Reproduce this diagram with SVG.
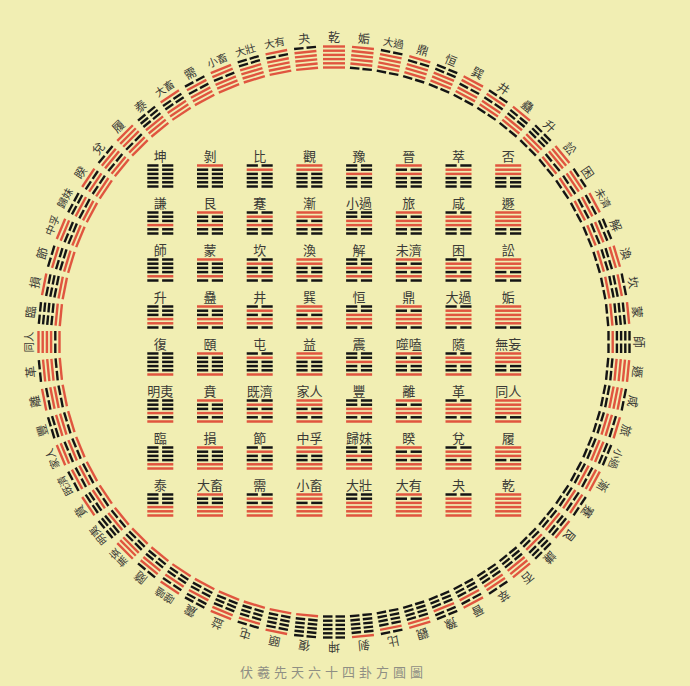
<svg xmlns="http://www.w3.org/2000/svg" xmlns:xlink="http://www.w3.org/1999/xlink" width="690" height="686" viewBox="0 0 690 686">
<style>
.r{fill:#e0553f}
.k{fill:#141414}
text{font-family:"Noto Sans CJK TC","Noto Sans CJK SC","Noto Sans CJK JP",sans-serif;text-anchor:middle;fill:#3a3a36}
.sl{font-size:13px}
.cl{font-size:12px}
.c2{font-size:10.5px}
.title{font-size:13px;fill:#8f8f84;letter-spacing:4px;text-anchor:start}
</style>
<defs>
<g id="sy"><rect class="r" x="-13" y="-1.25" width="26" height="2.5"/></g>
<g id="sn"><rect class="k" x="-13" y="-1.25" width="11.2" height="2.5"/><rect class="k" x="1.8" y="-1.25" width="11.2" height="2.5"/></g>
<g id="sQ"><use href="#sy"/><use href="#sy" y="-4.2"/><use href="#sy" y="-8.4"/></g>
<g id="sD"><use href="#sy"/><use href="#sy" y="-4.2"/><use href="#sn" y="-8.4"/></g>
<g id="sL"><use href="#sy"/><use href="#sn" y="-4.2"/><use href="#sy" y="-8.4"/></g>
<g id="sZ"><use href="#sy"/><use href="#sn" y="-4.2"/><use href="#sn" y="-8.4"/></g>
<g id="sX"><use href="#sn"/><use href="#sy" y="-4.2"/><use href="#sy" y="-8.4"/></g>
<g id="sK"><use href="#sn"/><use href="#sy" y="-4.2"/><use href="#sn" y="-8.4"/></g>
<g id="sG"><use href="#sn"/><use href="#sn" y="-4.2"/><use href="#sy" y="-8.4"/></g>
<g id="sN"><use href="#sn"/><use href="#sn" y="-4.2"/><use href="#sn" y="-8.4"/></g>
<g id="cy"><rect class="r" x="-11" y="-1.2" width="22" height="2.4"/></g>
<g id="cn"><rect class="k" x="-11" y="-1.2" width="9.5" height="2.4"/><rect class="k" x="1.5" y="-1.2" width="9.5" height="2.4"/></g>
<g id="cQ"><use href="#cy"/><use href="#cy" y="-4.2"/><use href="#cy" y="-8.4"/></g>
<g id="cD"><use href="#cy"/><use href="#cy" y="-4.2"/><use href="#cn" y="-8.4"/></g>
<g id="cL"><use href="#cy"/><use href="#cn" y="-4.2"/><use href="#cy" y="-8.4"/></g>
<g id="cZ"><use href="#cy"/><use href="#cn" y="-4.2"/><use href="#cn" y="-8.4"/></g>
<g id="cX"><use href="#cn"/><use href="#cy" y="-4.2"/><use href="#cy" y="-8.4"/></g>
<g id="cK"><use href="#cn"/><use href="#cy" y="-4.2"/><use href="#cn" y="-8.4"/></g>
<g id="cG"><use href="#cn"/><use href="#cn" y="-4.2"/><use href="#cy" y="-8.4"/></g>
<g id="cN"><use href="#cn"/><use href="#cn" y="-4.2"/><use href="#cn" y="-8.4"/></g>
</defs>
<rect width="690" height="686" fill="#f1eeb3"/>

<g id="square">
<g id="sq-kun" transform="translate(160.3 186.5)"><use href="#sN"/><use href="#sN" y="-12.6"/><text class="sl" y="-25.1">坤</text></g>
<g id="sq-bo" transform="translate(210 186.5)"><use href="#sN"/><use href="#sG" y="-12.6"/><text class="sl" y="-25.1">剝</text></g>
<g id="sq-bi" transform="translate(259.7 186.5)"><use href="#sN"/><use href="#sK" y="-12.6"/><text class="sl" y="-25.1">比</text></g>
<g id="sq-guan" transform="translate(309.4 186.5)"><use href="#sN"/><use href="#sX" y="-12.6"/><text class="sl" y="-25.1">觀</text></g>
<g id="sq-yu" transform="translate(359.1 186.5)"><use href="#sN"/><use href="#sZ" y="-12.6"/><text class="sl" y="-25.1">豫</text></g>
<g id="sq-jin" transform="translate(408.8 186.5)"><use href="#sN"/><use href="#sL" y="-12.6"/><text class="sl" y="-25.1">晉</text></g>
<g id="sq-cui" transform="translate(458.5 186.5)"><use href="#sN"/><use href="#sD" y="-12.6"/><text class="sl" y="-25.1">萃</text></g>
<g id="sq-pi" transform="translate(508.2 186.5)"><use href="#sN"/><use href="#sQ" y="-12.6"/><text class="sl" y="-25.1">否</text></g>

<g id="sq-qian2" transform="translate(160.3 233.5)"><use href="#sG"/><use href="#sN" y="-12.6"/><text class="sl" y="-25.1">謙</text></g>
<g id="sq-gen" transform="translate(210 233.5)"><use href="#sG"/><use href="#sG" y="-12.6"/><text class="sl" y="-25.1">艮</text></g>
<g id="sq-jian3" transform="translate(259.7 233.5)"><use href="#sG"/><use href="#sK" y="-12.6"/><text class="sl" y="-25.1">蹇</text></g>
<g id="sq-jian4" transform="translate(309.4 233.5)"><use href="#sG"/><use href="#sX" y="-12.6"/><text class="sl" y="-25.1">漸</text></g>
<g id="sq-xiaoguo" transform="translate(359.1 233.5)"><use href="#sG"/><use href="#sZ" y="-12.6"/><text class="sl" y="-25.1">小過</text></g>
<g id="sq-lv" transform="translate(408.8 233.5)"><use href="#sG"/><use href="#sL" y="-12.6"/><text class="sl" y="-25.1">旅</text></g>
<g id="sq-xian" transform="translate(458.5 233.5)"><use href="#sG"/><use href="#sD" y="-12.6"/><text class="sl" y="-25.1">咸</text></g>
<g id="sq-dun" transform="translate(508.2 233.5)"><use href="#sG"/><use href="#sQ" y="-12.6"/><text class="sl" y="-25.1">遯</text></g>

<g id="sq-shi" transform="translate(160.3 280.5)"><use href="#sK"/><use href="#sN" y="-12.6"/><text class="sl" y="-25.1">師</text></g>
<g id="sq-meng" transform="translate(210 280.5)"><use href="#sK"/><use href="#sG" y="-12.6"/><text class="sl" y="-25.1">蒙</text></g>
<g id="sq-kan" transform="translate(259.7 280.5)"><use href="#sK"/><use href="#sK" y="-12.6"/><text class="sl" y="-25.1">坎</text></g>
<g id="sq-huan" transform="translate(309.4 280.5)"><use href="#sK"/><use href="#sX" y="-12.6"/><text class="sl" y="-25.1">渙</text></g>
<g id="sq-xie" transform="translate(359.1 280.5)"><use href="#sK"/><use href="#sZ" y="-12.6"/><text class="sl" y="-25.1">解</text></g>
<g id="sq-weiji" transform="translate(408.8 280.5)"><use href="#sK"/><use href="#sL" y="-12.6"/><text class="sl" y="-25.1">未濟</text></g>
<g id="sq-kun4" transform="translate(458.5 280.5)"><use href="#sK"/><use href="#sD" y="-12.6"/><text class="sl" y="-25.1">困</text></g>
<g id="sq-song" transform="translate(508.2 280.5)"><use href="#sK"/><use href="#sQ" y="-12.6"/><text class="sl" y="-25.1">訟</text></g>

<g id="sq-sheng" transform="translate(160.3 327.5)"><use href="#sX"/><use href="#sN" y="-12.6"/><text class="sl" y="-25.1">升</text></g>
<g id="sq-gu" transform="translate(210 327.5)"><use href="#sX"/><use href="#sG" y="-12.6"/><text class="sl" y="-25.1">蠱</text></g>
<g id="sq-jing" transform="translate(259.7 327.5)"><use href="#sX"/><use href="#sK" y="-12.6"/><text class="sl" y="-25.1">井</text></g>
<g id="sq-xun" transform="translate(309.4 327.5)"><use href="#sX"/><use href="#sX" y="-12.6"/><text class="sl" y="-25.1">巽</text></g>
<g id="sq-heng" transform="translate(359.1 327.5)"><use href="#sX"/><use href="#sZ" y="-12.6"/><text class="sl" y="-25.1">恒</text></g>
<g id="sq-ding" transform="translate(408.8 327.5)"><use href="#sX"/><use href="#sL" y="-12.6"/><text class="sl" y="-25.1">鼎</text></g>
<g id="sq-daguo" transform="translate(458.5 327.5)"><use href="#sX"/><use href="#sD" y="-12.6"/><text class="sl" y="-25.1">大過</text></g>
<g id="sq-gou" transform="translate(508.2 327.5)"><use href="#sX"/><use href="#sQ" y="-12.6"/><text class="sl" y="-25.1">姤</text></g>

<g id="sq-fu" transform="translate(160.3 374.5)"><use href="#sZ"/><use href="#sN" y="-12.6"/><text class="sl" y="-25.1">復</text></g>
<g id="sq-yi" transform="translate(210 374.5)"><use href="#sZ"/><use href="#sG" y="-12.6"/><text class="sl" y="-25.1">頤</text></g>
<g id="sq-zhun" transform="translate(259.7 374.5)"><use href="#sZ"/><use href="#sK" y="-12.6"/><text class="sl" y="-25.1">屯</text></g>
<g id="sq-yi2" transform="translate(309.4 374.5)"><use href="#sZ"/><use href="#sX" y="-12.6"/><text class="sl" y="-25.1">益</text></g>
<g id="sq-zhen" transform="translate(359.1 374.5)"><use href="#sZ"/><use href="#sZ" y="-12.6"/><text class="sl" y="-25.1">震</text></g>
<g id="sq-shihe" transform="translate(408.8 374.5)"><use href="#sZ"/><use href="#sL" y="-12.6"/><text class="sl" y="-25.1">噬嗑</text></g>
<g id="sq-sui" transform="translate(458.5 374.5)"><use href="#sZ"/><use href="#sD" y="-12.6"/><text class="sl" y="-25.1">隨</text></g>
<g id="sq-wuwang" transform="translate(508.2 374.5)"><use href="#sZ"/><use href="#sQ" y="-12.6"/><text class="sl" y="-25.1">無妄</text></g>

<g id="sq-mingyi" transform="translate(160.3 421.5)"><use href="#sL"/><use href="#sN" y="-12.6"/><text class="sl" y="-25.1">明夷</text></g>
<g id="sq-bi4" transform="translate(210 421.5)"><use href="#sL"/><use href="#sG" y="-12.6"/><text class="sl" y="-25.1">賁</text></g>
<g id="sq-jiji" transform="translate(259.7 421.5)"><use href="#sL"/><use href="#sK" y="-12.6"/><text class="sl" y="-25.1">既濟</text></g>
<g id="sq-jiaren" transform="translate(309.4 421.5)"><use href="#sL"/><use href="#sX" y="-12.6"/><text class="sl" y="-25.1">家人</text></g>
<g id="sq-feng" transform="translate(359.1 421.5)"><use href="#sL"/><use href="#sZ" y="-12.6"/><text class="sl" y="-25.1">豐</text></g>
<g id="sq-li" transform="translate(408.8 421.5)"><use href="#sL"/><use href="#sL" y="-12.6"/><text class="sl" y="-25.1">離</text></g>
<g id="sq-ge" transform="translate(458.5 421.5)"><use href="#sL"/><use href="#sD" y="-12.6"/><text class="sl" y="-25.1">革</text></g>
<g id="sq-tongren" transform="translate(508.2 421.5)"><use href="#sL"/><use href="#sQ" y="-12.6"/><text class="sl" y="-25.1">同人</text></g>

<g id="sq-lin" transform="translate(160.3 468.5)"><use href="#sD"/><use href="#sN" y="-12.6"/><text class="sl" y="-25.1">臨</text></g>
<g id="sq-sun" transform="translate(210 468.5)"><use href="#sD"/><use href="#sG" y="-12.6"/><text class="sl" y="-25.1">損</text></g>
<g id="sq-jie" transform="translate(259.7 468.5)"><use href="#sD"/><use href="#sK" y="-12.6"/><text class="sl" y="-25.1">節</text></g>
<g id="sq-zhongfu" transform="translate(309.4 468.5)"><use href="#sD"/><use href="#sX" y="-12.6"/><text class="sl" y="-25.1">中孚</text></g>
<g id="sq-guimei" transform="translate(359.1 468.5)"><use href="#sD"/><use href="#sZ" y="-12.6"/><text class="sl" y="-25.1">歸妹</text></g>
<g id="sq-kui" transform="translate(408.8 468.5)"><use href="#sD"/><use href="#sL" y="-12.6"/><text class="sl" y="-25.1">睽</text></g>
<g id="sq-dui" transform="translate(458.5 468.5)"><use href="#sD"/><use href="#sD" y="-12.6"/><text class="sl" y="-25.1">兌</text></g>
<g id="sq-lv3" transform="translate(508.2 468.5)"><use href="#sD"/><use href="#sQ" y="-12.6"/><text class="sl" y="-25.1">履</text></g>

<g id="sq-tai" transform="translate(160.3 515.5)"><use href="#sQ"/><use href="#sN" y="-12.6"/><text class="sl" y="-25.1">泰</text></g>
<g id="sq-daxu" transform="translate(210 515.5)"><use href="#sQ"/><use href="#sG" y="-12.6"/><text class="sl" y="-25.1">大畜</text></g>
<g id="sq-xu" transform="translate(259.7 515.5)"><use href="#sQ"/><use href="#sK" y="-12.6"/><text class="sl" y="-25.1">需</text></g>
<g id="sq-xiaoxu" transform="translate(309.4 515.5)"><use href="#sQ"/><use href="#sX" y="-12.6"/><text class="sl" y="-25.1">小畜</text></g>
<g id="sq-dazhuang" transform="translate(359.1 515.5)"><use href="#sQ"/><use href="#sZ" y="-12.6"/><text class="sl" y="-25.1">大壯</text></g>
<g id="sq-dayou" transform="translate(408.8 515.5)"><use href="#sQ"/><use href="#sL" y="-12.6"/><text class="sl" y="-25.1">大有</text></g>
<g id="sq-guai" transform="translate(458.5 515.5)"><use href="#sQ"/><use href="#sD" y="-12.6"/><text class="sl" y="-25.1">夬</text></g>
<g id="sq-qian" transform="translate(508.2 515.5)"><use href="#sQ"/><use href="#sQ" y="-12.6"/><text class="sl" y="-25.1">乾</text></g>
</g>

<g id="circle">
<g id="ci-qian" transform="rotate(0 334 342) translate(334 67.5)"><use href="#cQ"/><use href="#cQ" y="-12.6"/><text class="cl" y="-25.9">乾</text></g>
<g id="ci-guai" transform="rotate(-5.625 334 342) translate(334 67.5)"><use href="#cQ"/><use href="#cD" y="-12.6"/><text class="cl" y="-25.9">夬</text></g>
<g id="ci-dayou" transform="rotate(-11.25 334 342) translate(334 67.5)"><use href="#cQ"/><use href="#cL" y="-12.6"/><text class="c2" y="-26.5">大有</text></g>
<g id="ci-dazhuang" transform="rotate(-16.875 334 342) translate(334 67.5)"><use href="#cQ"/><use href="#cZ" y="-12.6"/><text class="c2" y="-26.5">大壯</text></g>
<g id="ci-xiaoxu" transform="rotate(-22.5 334 342) translate(334 67.5)"><use href="#cQ"/><use href="#cX" y="-12.6"/><text class="c2" y="-26.5">小畜</text></g>
<g id="ci-xu" transform="rotate(-28.125 334 342) translate(334 67.5)"><use href="#cQ"/><use href="#cK" y="-12.6"/><text class="cl" y="-25.9">需</text></g>
<g id="ci-daxu" transform="rotate(-33.75 334 342) translate(334 67.5)"><use href="#cQ"/><use href="#cG" y="-12.6"/><text class="c2" y="-26.5">大畜</text></g>
<g id="ci-tai" transform="rotate(-39.375 334 342) translate(334 67.5)"><use href="#cQ"/><use href="#cN" y="-12.6"/><text class="cl" y="-25.9">泰</text></g>
<g id="ci-lv3" transform="rotate(-45 334 342) translate(334 67.5)"><use href="#cD"/><use href="#cQ" y="-12.6"/><text class="cl" y="-25.9">履</text></g>
<g id="ci-dui" transform="rotate(-50.625 334 342) translate(334 67.5)"><use href="#cD"/><use href="#cD" y="-12.6"/><text class="cl" y="-25.9">兌</text></g>
<g id="ci-kui" transform="rotate(-56.25 334 342) translate(334 67.5)"><use href="#cD"/><use href="#cL" y="-12.6"/><text class="cl" y="-25.9">睽</text></g>
<g id="ci-guimei" transform="rotate(-61.875 334 342) translate(334 67.5)"><use href="#cD"/><use href="#cZ" y="-12.6"/><text class="c2" y="-26.5">歸妹</text></g>
<g id="ci-zhongfu" transform="rotate(-67.5 334 342) translate(334 67.5)"><use href="#cD"/><use href="#cX" y="-12.6"/><text class="c2" y="-26.5">中孚</text></g>
<g id="ci-jie" transform="rotate(-73.125 334 342) translate(334 67.5)"><use href="#cD"/><use href="#cK" y="-12.6"/><text class="cl" y="-25.9">節</text></g>
<g id="ci-sun" transform="rotate(-78.75 334 342) translate(334 67.5)"><use href="#cD"/><use href="#cG" y="-12.6"/><text class="cl" y="-25.9">損</text></g>
<g id="ci-lin" transform="rotate(-84.375 334 342) translate(334 67.5)"><use href="#cD"/><use href="#cN" y="-12.6"/><text class="cl" y="-25.9">臨</text></g>
<g id="ci-tongren" transform="rotate(-90 334 342) translate(334 67.5)"><use href="#cL"/><use href="#cQ" y="-12.6"/><text class="c2" y="-26.5">同人</text></g>
<g id="ci-ge" transform="rotate(-95.625 334 342) translate(334 67.5)"><use href="#cL"/><use href="#cD" y="-12.6"/><text class="cl" y="-25.9">革</text></g>
<g id="ci-li" transform="rotate(-101.25 334 342) translate(334 67.5)"><use href="#cL"/><use href="#cL" y="-12.6"/><text class="cl" y="-25.9">離</text></g>
<g id="ci-feng" transform="rotate(-106.875 334 342) translate(334 67.5)"><use href="#cL"/><use href="#cZ" y="-12.6"/><text class="cl" y="-25.9">豐</text></g>
<g id="ci-jiaren" transform="rotate(-112.5 334 342) translate(334 67.5)"><use href="#cL"/><use href="#cX" y="-12.6"/><text class="c2" y="-26.5">家人</text></g>
<g id="ci-jiji" transform="rotate(-118.125 334 342) translate(334 67.5)"><use href="#cL"/><use href="#cK" y="-12.6"/><text class="c2" y="-26.5">既濟</text></g>
<g id="ci-bi4" transform="rotate(-123.75 334 342) translate(334 67.5)"><use href="#cL"/><use href="#cG" y="-12.6"/><text class="cl" y="-25.9">賁</text></g>
<g id="ci-mingyi" transform="rotate(-129.375 334 342) translate(334 67.5)"><use href="#cL"/><use href="#cN" y="-12.6"/><text class="c2" y="-26.5">明夷</text></g>
<g id="ci-wuwang" transform="rotate(-135 334 342) translate(334 67.5)"><use href="#cZ"/><use href="#cQ" y="-12.6"/><text class="c2" y="-26.5">無妄</text></g>
<g id="ci-sui" transform="rotate(-140.625 334 342) translate(334 67.5)"><use href="#cZ"/><use href="#cD" y="-12.6"/><text class="cl" y="-25.9">隨</text></g>
<g id="ci-shihe" transform="rotate(-146.25 334 342) translate(334 67.5)"><use href="#cZ"/><use href="#cL" y="-12.6"/><text class="c2" y="-26.5">噬嗑</text></g>
<g id="ci-zhen" transform="rotate(-151.875 334 342) translate(334 67.5)"><use href="#cZ"/><use href="#cZ" y="-12.6"/><text class="cl" y="-25.9">震</text></g>
<g id="ci-yi2" transform="rotate(-157.5 334 342) translate(334 67.5)"><use href="#cZ"/><use href="#cX" y="-12.6"/><text class="cl" y="-25.9">益</text></g>
<g id="ci-zhun" transform="rotate(-163.125 334 342) translate(334 67.5)"><use href="#cZ"/><use href="#cK" y="-12.6"/><text class="cl" y="-25.9">屯</text></g>
<g id="ci-yi" transform="rotate(-168.75 334 342) translate(334 67.5)"><use href="#cZ"/><use href="#cG" y="-12.6"/><text class="cl" y="-25.9">頤</text></g>
<g id="ci-fu" transform="rotate(-174.375 334 342) translate(334 67.5)"><use href="#cZ"/><use href="#cN" y="-12.6"/><text class="cl" y="-25.9">復</text></g>
<g id="ci-gou" transform="rotate(5.625 334 342) translate(334 67.5)"><use href="#cX"/><use href="#cQ" y="-12.6"/><text class="cl" y="-25.9">姤</text></g>
<g id="ci-daguo" transform="rotate(11.25 334 342) translate(334 67.5)"><use href="#cX"/><use href="#cD" y="-12.6"/><text class="c2" y="-26.5">大過</text></g>
<g id="ci-ding" transform="rotate(16.875 334 342) translate(334 67.5)"><use href="#cX"/><use href="#cL" y="-12.6"/><text class="cl" y="-25.9">鼎</text></g>
<g id="ci-heng" transform="rotate(22.5 334 342) translate(334 67.5)"><use href="#cX"/><use href="#cZ" y="-12.6"/><text class="cl" y="-25.9">恒</text></g>
<g id="ci-xun" transform="rotate(28.125 334 342) translate(334 67.5)"><use href="#cX"/><use href="#cX" y="-12.6"/><text class="cl" y="-25.9">巽</text></g>
<g id="ci-jing" transform="rotate(33.75 334 342) translate(334 67.5)"><use href="#cX"/><use href="#cK" y="-12.6"/><text class="cl" y="-25.9">井</text></g>
<g id="ci-gu" transform="rotate(39.375 334 342) translate(334 67.5)"><use href="#cX"/><use href="#cG" y="-12.6"/><text class="cl" y="-25.9">蠱</text></g>
<g id="ci-sheng" transform="rotate(45 334 342) translate(334 67.5)"><use href="#cX"/><use href="#cN" y="-12.6"/><text class="cl" y="-25.9">升</text></g>
<g id="ci-song" transform="rotate(50.625 334 342) translate(334 67.5)"><use href="#cK"/><use href="#cQ" y="-12.6"/><text class="cl" y="-25.9">訟</text></g>
<g id="ci-kun4" transform="rotate(56.25 334 342) translate(334 67.5)"><use href="#cK"/><use href="#cD" y="-12.6"/><text class="cl" y="-25.9">困</text></g>
<g id="ci-weiji" transform="rotate(61.875 334 342) translate(334 67.5)"><use href="#cK"/><use href="#cL" y="-12.6"/><text class="c2" y="-26.5">未濟</text></g>
<g id="ci-xie" transform="rotate(67.5 334 342) translate(334 67.5)"><use href="#cK"/><use href="#cZ" y="-12.6"/><text class="cl" y="-25.9">解</text></g>
<g id="ci-huan" transform="rotate(73.125 334 342) translate(334 67.5)"><use href="#cK"/><use href="#cX" y="-12.6"/><text class="cl" y="-25.9">渙</text></g>
<g id="ci-kan" transform="rotate(78.75 334 342) translate(334 67.5)"><use href="#cK"/><use href="#cK" y="-12.6"/><text class="cl" y="-25.9">坎</text></g>
<g id="ci-meng" transform="rotate(84.375 334 342) translate(334 67.5)"><use href="#cK"/><use href="#cG" y="-12.6"/><text class="cl" y="-25.9">蒙</text></g>
<g id="ci-shi" transform="rotate(90 334 342) translate(334 67.5)"><use href="#cK"/><use href="#cN" y="-12.6"/><text class="cl" y="-25.9">師</text></g>
<g id="ci-dun" transform="rotate(95.625 334 342) translate(334 67.5)"><use href="#cG"/><use href="#cQ" y="-12.6"/><text class="cl" y="-25.9">遯</text></g>
<g id="ci-xian" transform="rotate(101.25 334 342) translate(334 67.5)"><use href="#cG"/><use href="#cD" y="-12.6"/><text class="cl" y="-25.9">咸</text></g>
<g id="ci-lv" transform="rotate(106.875 334 342) translate(334 67.5)"><use href="#cG"/><use href="#cL" y="-12.6"/><text class="cl" y="-25.9">旅</text></g>
<g id="ci-xiaoguo" transform="rotate(112.5 334 342) translate(334 67.5)"><use href="#cG"/><use href="#cZ" y="-12.6"/><text class="c2" y="-26.5">小過</text></g>
<g id="ci-jian4" transform="rotate(118.125 334 342) translate(334 67.5)"><use href="#cG"/><use href="#cX" y="-12.6"/><text class="cl" y="-25.9">漸</text></g>
<g id="ci-jian3" transform="rotate(123.75 334 342) translate(334 67.5)"><use href="#cG"/><use href="#cK" y="-12.6"/><text class="cl" y="-25.9">蹇</text></g>
<g id="ci-gen" transform="rotate(129.375 334 342) translate(334 67.5)"><use href="#cG"/><use href="#cG" y="-12.6"/><text class="cl" y="-25.9">艮</text></g>
<g id="ci-qian2" transform="rotate(135 334 342) translate(334 67.5)"><use href="#cG"/><use href="#cN" y="-12.6"/><text class="cl" y="-25.9">謙</text></g>
<g id="ci-pi" transform="rotate(140.625 334 342) translate(334 67.5)"><use href="#cN"/><use href="#cQ" y="-12.6"/><text class="cl" y="-25.9">否</text></g>
<g id="ci-cui" transform="rotate(146.25 334 342) translate(334 67.5)"><use href="#cN"/><use href="#cD" y="-12.6"/><text class="cl" y="-25.9">萃</text></g>
<g id="ci-jin" transform="rotate(151.875 334 342) translate(334 67.5)"><use href="#cN"/><use href="#cL" y="-12.6"/><text class="cl" y="-25.9">晉</text></g>
<g id="ci-yu" transform="rotate(157.5 334 342) translate(334 67.5)"><use href="#cN"/><use href="#cZ" y="-12.6"/><text class="cl" y="-25.9">豫</text></g>
<g id="ci-guan" transform="rotate(163.125 334 342) translate(334 67.5)"><use href="#cN"/><use href="#cX" y="-12.6"/><text class="cl" y="-25.9">觀</text></g>
<g id="ci-bi" transform="rotate(168.75 334 342) translate(334 67.5)"><use href="#cN"/><use href="#cK" y="-12.6"/><text class="cl" y="-25.9">比</text></g>
<g id="ci-bo" transform="rotate(174.375 334 342) translate(334 67.5)"><use href="#cN"/><use href="#cG" y="-12.6"/><text class="cl" y="-25.9">剝</text></g>
<g id="ci-kun" transform="rotate(180 334 342) translate(334 67.5)"><use href="#cN"/><use href="#cN" y="-12.6"/><text class="cl" y="-25.9">坤</text></g>
</g>

<text id="title" class="title" x="240" y="677">伏羲先天六十四卦方圓圖</text>
</svg>
